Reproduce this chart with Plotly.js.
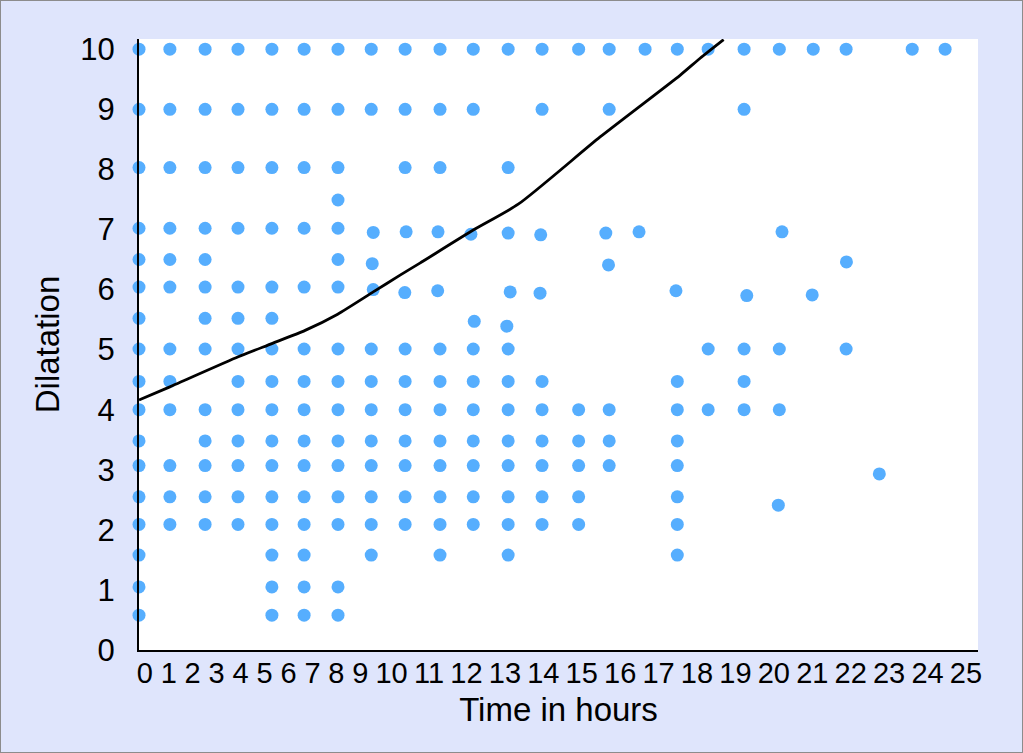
<!DOCTYPE html>
<html><head><meta charset="utf-8">
<script src="https://cdn.plot.ly/plotly-3.0.1.min.js"></script>
<style>
html,body{margin:0;padding:0;background:#ffffff;}
#chart{width:1021px;height:751px;border:1px solid #8c8c8c;}
</style></head><body><div id="chart"></div>
<script>
// ---- Data (hours, dilatation) ----
const hoursAtDil10  = [0,0.92,1.97,2.95,3.96,4.92,5.93,6.92,7.93,8.97,9.96,11.0,12.01,13.1,14.01,15.08,16.04,16.96,18.03,19.08,20.09,21.07,23.04,24.02];
const hoursAtDil9   = [0,0.92,1.97,2.95,3.96,4.92,5.93,6.92,7.93,8.97,9.96,12.01,14.01,18.03];
const hoursAtDil8   = [0,0.92,1.97,2.95,3.96,4.92,5.93,7.93,8.97,11.0];
const hoursAtDil7_5 = [5.93];
const hoursAtDil7   = [0,0.92,1.97,2.95,3.96,4.92,5.93];
const hoursAtDil6_5 = [0,0.92,1.97,5.93];
const hoursAtDil6   = [0,0.92,1.97,2.95,3.96,4.92,5.93];
const hoursAtDil5_5 = [0,1.97,2.95,3.96];
const hoursAtDil5   = [0,0.92,1.97,2.95,3.96,4.92,5.93,6.92,7.93,8.97,9.96,11.0,16.96,18.03,19.08,21.07];
const hoursAtDil4_5 = [0,0.92,2.95,3.96,4.92,5.93,6.92,7.93,8.97,9.96,11.0,12.01,16.04,18.03];
const hoursAtDil4   = [0,0.92,1.97,2.95,3.96,4.92,5.93,6.92,7.93,8.97,9.96,11.0,12.01,13.1,14.01,16.04,16.96,18.03,19.08];
const hoursAtDil3_5 = [0,1.97,2.95,3.96,4.92,5.93,6.92,7.93,8.97,9.96,11.0,12.01,13.1,14.01,16.04];
const hoursAtDil3   = [0,0.92,1.97,2.95,3.96,4.92,5.93,6.92,7.93,8.97,9.96,11.0,12.01,13.1,14.01,16.04];
const hoursAtDil2_5 = [0,0.92,1.97,2.95,3.96,4.92,5.93,6.92,7.93,8.97,9.96,11.0,12.01,13.1,16.04];
const hoursAtDil2   = [0,0.92,1.97,2.95,3.96,4.92,5.93,6.92,7.93,8.97,9.96,11.0,12.01,13.1,16.04];
const hoursAtDil1_5 = [0,3.96,4.92,6.92,8.97,11.0,16.04];
const hoursAtDil1   = [0,3.96,4.92,5.93];
const hoursAtDil0_5 = [0,3.96,4.92,5.93];

// dilatation level of each row above
const rowLevels = [10, 9.0, 8.03, 7.49, 7.02, 6.5, 6.04, 5.52, 5.01, 4.47, 4.0, 3.48, 3.07, 2.55, 2.09, 1.58, 1.05, 0.58];
const rowHours  = [hoursAtDil10, hoursAtDil9, hoursAtDil8, hoursAtDil7_5, hoursAtDil7, hoursAtDil6_5, hoursAtDil6,
                   hoursAtDil5_5, hoursAtDil5, hoursAtDil4_5, hoursAtDil4, hoursAtDil3_5, hoursAtDil3, hoursAtDil2_5,
                   hoursAtDil2, hoursAtDil1_5, hoursAtDil1, hoursAtDil0_5];

// individual observations that sit off the regular rows
const looseHours = [6.98,7.96,8.91,9.89,11.0,11.97,13.91,14.9,19.16, 6.95,13.99,21.08, 6.98,7.92,8.9,11.06,11.95,16.0,18.11,20.06, 9.99,10.96, 22.06,19.05];
const looseDil   = [6.95,6.96,6.96,6.92,6.94,6.91,6.94,6.96,6.96, 6.43,6.41,6.46, 6.0,5.95,5.98,5.96,5.94,5.98,5.9,5.91, 5.47,5.39, 2.93,2.41];

// curve (alert line)
const curveHours = [0, 0.92, 2.96, 3.96, 4.95, 5.92, 6.98, 7.78, 8.37, 9.96, 11.3, 13.74, 16.13, 16.72, 17.42];
const curveDil   = [4.16, 4.38, 4.88, 5.10, 5.32, 5.59, 5.96, 6.24, 6.44, 6.99, 7.42, 8.54, 9.57, 9.85, 10.16];

// x tick labels
const xTickLabels = ['0','1','2','3','4','5','6','7','8','9','10','11','12','13','14','15','16','17','18','19','20','21','22','23','24','25'];
const yTickVals = [0,1,2,3,4,5,6,7,8,9,10];

// ---- Build ----
const ptX = [], ptY = [];
rowLevels.forEach((lvl, i) => { rowHours[i].forEach(h => { ptX.push(h); ptY.push(lvl); }); });
looseHours.forEach((h, i) => { ptX.push(h); ptY.push(looseDil[i]); });

const FONT = 'Liberation Sans, Arial, Helvetica, sans-serif';
const W = 1021, H = 751;
const margin = {l: 138, r: 44, t: 38, b: 102};
const plotW = W - margin.l - margin.r;
const xRange = [0, 25];
const pxPerUnit = plotW / (xRange[1] - xRange[0]);

// x labels are laid out as one flowing line of text, starting at the y axis line
function flowTickVals(labels, fontPx, gapPx, startPx) {
  const ctx = document.createElement('canvas').getContext('2d');
  ctx.font = fontPx + 'px "Liberation Sans", Arial, sans-serif';
  let left = startPx; const vals = [];
  labels.forEach(l => {
    const w = ctx.measureText(l).width;
    vals.push(xRange[0] + (left + w / 2) / pxPerUnit);
    left += w + gapPx;
  });
  return vals;
}
const xTickVals = flowTickVals(xTickLabels, 26, 9.5, -1.5);
const xTickFont = 29;

const traces = [
  {x: ptX, y: ptY, type: 'scatter', mode: 'markers', cliponaxis: false, hoverinfo: 'skip',
   marker: {size: 13, color: '#56aefe', line: {width: 0}}},
  {x: curveHours, y: curveDil, type: 'scatter', mode: 'lines', hoverinfo: 'skip',
   line: {color: '#000000', width: 2.8, shape: 'spline', smoothing: 0.6}}
];

const layout = {
  width: W, height: H,
  margin: margin,
  paper_bgcolor: 'rgb(223,229,252)',
  plot_bgcolor: '#ffffff',
  showlegend: false,
  font: {family: FONT, color: '#000000'},
  xaxis: {
    range: xRange, showgrid: false, zeroline: false,
    showline: true, linecolor: '#000000', linewidth: 2,
    tickmode: 'array', tickvals: xTickVals, ticktext: xTickLabels, ticks: '', tickangle: 0,
    tickfont: {size: xTickFont, family: FONT, color: '#000'},
    ticklabelstandoff: -4,
    title: {text: 'Time in hours', font: {size: 33, family: FONT, color: '#000'}, standoff: 10},
    fixedrange: true
  },
  yaxis: {
    range: [0, 10.17], showgrid: false, zeroline: false,
    showline: true, linecolor: '#000000', linewidth: 2,
    tickmode: 'array', tickvals: yTickVals, ticks: '',
    tickfont: {size: 31, family: FONT, color: '#000'},
    ticklabelstandoff: 16,
    title: {text: 'Dilatation', font: {size: 33, family: FONT, color: '#000'}, standoff: 11},
    fixedrange: true
  }
};

Plotly.newPlot('chart', traces, layout, {displayModeBar: false, staticPlot: true});
</script></body></html>
